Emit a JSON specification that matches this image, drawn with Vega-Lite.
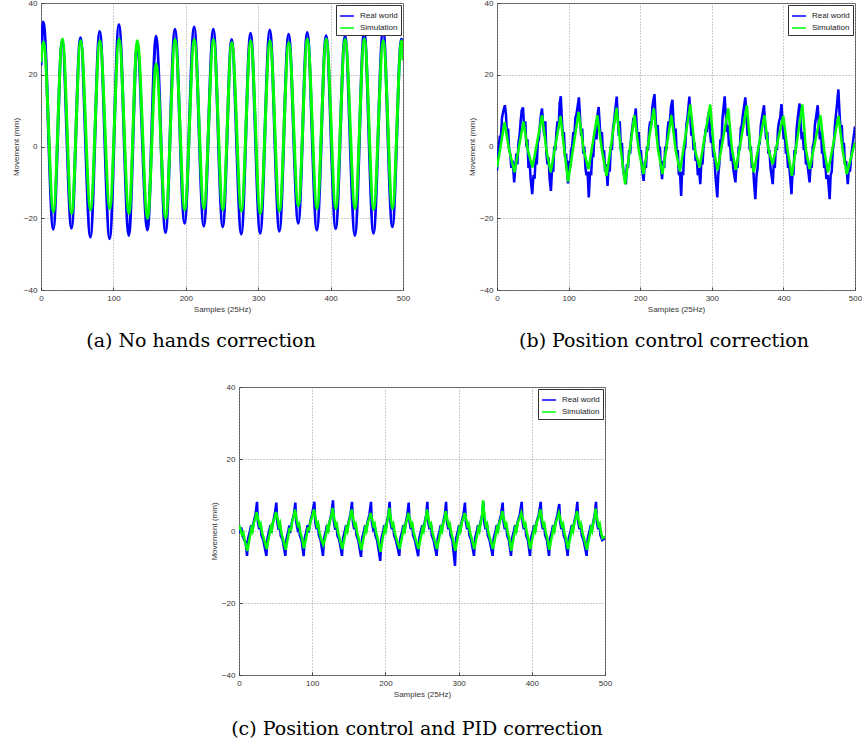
{
"$schema": "https://vega.github.io/schema/vega-lite/v6.json",
"background": "white",
"padding": {"left": 11, "top": -2, "right": 0, "bottom": 0},
"config": {
  "font": "Liberation Sans",
  "view": {"stroke": "#555", "strokeWidth": 1},
  "axis": {"labelFont": "Liberation Sans", "labelFontSize": 8, "labelColor": "#333", "titleFont": "Liberation Sans", "titleFontSize": 8, "titleFontWeight": "normal", "titleColor": "#333", "ticks": true, "tickSize": -3, "tickColor": "#444", "domain": false, "grid": true, "gridColor": "#999", "gridDash": [1, 2], "gridWidth": 1, "labelPadding": 7, "titlePadding": 3, "labelFlush": false},
  "legend": {"orient": "top-right", "offset": 2, "padding": 3, "strokeColor": "#333", "fillColor": "white", "symbolType": "stroke", "symbolSize": 196, "symbolStrokeWidth": 1.5, "labelFont": "Liberation Sans", "labelFontSize": 8, "labelColor": "#222", "rowPadding": -1, "labelOffset": 5, "cornerRadius": 0},
  "title": {"font": "DejaVu Serif", "fontSize": 19, "fontWeight": "normal", "color": "#000", "orient": "bottom", "offset": 19, "anchor": "middle"}
},
"datasets": {
"aR": [{"x":0,"y":22.6},{"x":3.2,"y":34.7},{"x":16.9,"y":-23.1},{"x":29.3,"y":29.5},{"x":42,"y":-22.8},{"x":54.5,"y":30.3},{"x":68.2,"y":-25.3},{"x":81,"y":32.1},{"x":94.8,"y":-25.7},{"x":107.6,"y":34},{"x":121.3,"y":-24.8},{"x":132.8,"y":28.4},{"x":147,"y":-23.3},{"x":158.9,"y":30.7},{"x":172,"y":-24},{"x":185,"y":32.7},{"x":198.3,"y":-21.4},{"x":211.5,"y":33.3},{"x":224.8,"y":-22.2},{"x":238,"y":32.7},{"x":251,"y":-22.4},{"x":263.3,"y":29.8},{"x":276.6,"y":-24.4},{"x":289.4,"y":31.6},{"x":302.7,"y":-24.2},{"x":316,"y":32.5},{"x":329.2,"y":-23.6},{"x":342,"y":31.3},{"x":355.3,"y":-21.4},{"x":367.7,"y":31.8},{"x":381,"y":-23.3},{"x":393.8,"y":30.9},{"x":407,"y":-22.9},{"x":419.9,"y":30.8},{"x":433.6,"y":-24.8},{"x":446.4,"y":31.9},{"x":459.2,"y":-24.2},{"x":472.5,"y":32.6},{"x":485.3,"y":-22.4},{"x":497.8,"y":30},{"x":500,"y":27}],
"aS": [{"x":0,"y":23.5},{"x":3.5,"y":29.1},{"x":17.2,"y":-18.2},{"x":29.5,"y":30},{"x":42.3,"y":-18.7},{"x":54.7,"y":29.5},{"x":68.4,"y":-17.7},{"x":81.2,"y":29.5},{"x":95,"y":-17.3},{"x":107.8,"y":30},{"x":121.5,"y":-18.7},{"x":133,"y":29.5},{"x":147.2,"y":-20},{"x":159,"y":23},{"x":172.2,"y":-20},{"x":185.2,"y":29.8},{"x":198.5,"y":-17.7},{"x":211.7,"y":29.8},{"x":225,"y":-17.3},{"x":238.2,"y":29.8},{"x":251.2,"y":-17.7},{"x":263.5,"y":29},{"x":276.8,"y":-18},{"x":289.6,"y":29.5},{"x":302.9,"y":-18.7},{"x":316.2,"y":29.5},{"x":329.4,"y":-18},{"x":342.2,"y":29},{"x":355.5,"y":-16.6},{"x":367.9,"y":30},{"x":381.2,"y":-17.3},{"x":394,"y":30},{"x":407.2,"y":-17.3},{"x":420.1,"y":29.8},{"x":433.8,"y":-17.3},{"x":446.6,"y":30},{"x":459.4,"y":-17.5},{"x":472.7,"y":29.5},{"x":485.5,"y":-17.3},{"x":498,"y":29.5},{"x":500,"y":24}],
"bR": [{"x":0,"y":-6.7},{"x":2,"y":-1},{"x":4,"y":3},{"x":5,"y":1},{"x":7,"y":8},{"x":9,"y":10},{"x":11,"y":11.5},{"x":12.5,"y":9},{"x":14,"y":3},{"x":15.5,"y":5},{"x":17,"y":-1},{"x":18.5,"y":-2},{"x":20,"y":-6},{"x":22,"y":-4},{"x":24,"y":-10},
{"x":25.5,"y":-6},{"x":27,"y":-2},{"x":28.5,"y":-5},{"x":30,"y":1},{"x":31.5,"y":3},{"x":33,"y":7},{"x":34.5,"y":10},{"x":36.3,"y":10.9},
{"x":38,"y":5},{"x":39.5,"y":7},{"x":41,"y":0},{"x":42.5,"y":2},{"x":44,"y":-6},{"x":45.5,"y":-4},{"x":47,"y":-9},{"x":49.2,"y":-13.3},
{"x":51,"y":-8},{"x":52.5,"y":-9},{"x":54,"y":-3},{"x":55.5,"y":-5},{"x":57,"y":1},{"x":58.5,"y":2},{"x":60,"y":6},{"x":61.5,"y":9},{"x":62.9,"y":10.6},
{"x":64.5,"y":6},{"x":66,"y":3},{"x":67.5,"y":7},{"x":69,"y":-2},{"x":70.5,"y":-5},{"x":72,"y":-3},{"x":73.5,"y":-9},{"x":75.3,"y":-12.4},
{"x":77,"y":-6},{"x":78.5,"y":-7},{"x":80,"y":0},{"x":81.5,"y":-1},{"x":83,"y":4},{"x":84.5,"y":7},{"x":86,"y":5},{"x":87.5,"y":12},{"x":89.1,"y":14},
{"x":90.5,"y":8},{"x":92,"y":3},{"x":93.5,"y":4},{"x":95,"y":-3},{"x":96.5,"y":-2},{"x":98,"y":-7},{"x":99.2,"y":-10.3},
{"x":100.5,"y":-4},{"x":102,"y":-6},{"x":103.5,"y":-1},{"x":105,"y":0},{"x":106.5,"y":4},{"x":108,"y":3},{"x":109.5,"y":8},{"x":111,"y":9},{"x":112.5,"y":11},{"x":114.4,"y":13.7},
{"x":116,"y":8},{"x":117.5,"y":3},{"x":119,"y":5},{"x":120.5,"y":-2},{"x":122,"y":0},{"x":123.5,"y":-6},{"x":125,"y":-8},{"x":126.5,"y":-7},{"x":128.2,"y":-14.2},
{"x":130,"y":-7},{"x":131.5,"y":-8},{"x":133,"y":-2},{"x":134.5,"y":-3},{"x":136,"y":3},{"x":137.5,"y":5},{"x":139,"y":2},{"x":140.5,"y":9},{"x":142,"y":11},
{"x":143.5,"y":6},{"x":145,"y":2},{"x":146.5,"y":4},{"x":148,"y":-2},{"x":149.5,"y":-1},{"x":151,"y":-7},{"x":152.5,"y":-5},{"x":154.4,"y":-11},
{"x":156,"y":-5},{"x":157.5,"y":-7},{"x":159,"y":0},{"x":160.5,"y":-1},{"x":162,"y":5},{"x":163.5,"y":7},{"x":165,"y":10},{"x":167.2,"y":13.9},
{"x":168.5,"y":9},{"x":170,"y":3},{"x":171.5,"y":7},{"x":173,"y":-1},{"x":174.5,"y":1},{"x":176,"y":-6},{"x":177.5,"y":-8},{"x":180,"y":-10.5},
{"x":181.5,"y":-5},{"x":183,"y":-6},{"x":184.5,"y":-1},{"x":186,"y":-2},{"x":187.5,"y":3},{"x":189,"y":5},{"x":190.5,"y":8},{"x":192,"y":7},{"x":193.8,"y":10.6},
{"x":195,"y":6},{"x":196.5,"y":2},{"x":198,"y":4},{"x":199.5,"y":-2},{"x":201,"y":-1},{"x":202.5,"y":-6},{"x":204.8,"y":-9.6},
{"x":206.5,"y":-4},{"x":208,"y":-6},{"x":209.5,"y":0},{"x":211,"y":-1},{"x":212.5,"y":5},{"x":214,"y":7},{"x":215.5,"y":6},{"x":217,"y":11},{"x":218.5,"y":13},{"x":220,"y":14.6},
{"x":221.5,"y":8},{"x":223,"y":3},{"x":224.5,"y":6},{"x":226,"y":-1},{"x":227.5,"y":0},{"x":229,"y":-6},{"x":230.6,"y":-9.1},
{"x":232,"y":-4},{"x":233.5,"y":-6},{"x":235,"y":0},{"x":236.5,"y":-1},{"x":238,"y":4},{"x":239.5,"y":7},{"x":241,"y":6},{"x":243,"y":11},{"x":245,"y":13},
{"x":246.5,"y":7},{"x":248,"y":3},{"x":249.5,"y":5},{"x":251,"y":-2},{"x":252.5,"y":-1},{"x":254,"y":-8},{"x":255.5,"y":-7},{"x":257.2,"y":-13.8},
{"x":258.5,"y":-7},{"x":260,"y":-8},{"x":261.5,"y":-1},{"x":263,"y":0},{"x":264.5,"y":6},{"x":266,"y":8},{"x":268.7,"y":13.9},
{"x":270,"y":8},{"x":271.5,"y":3},{"x":273,"y":5},{"x":274.5,"y":-1},{"x":276,"y":1},{"x":277.5,"y":-4},{"x":279,"y":-3},{"x":280.5,"y":-8},{"x":282,"y":-6},{"x":283.9,"y":-10.5},
{"x":285.5,"y":-4},{"x":287,"y":-5},{"x":288.5,"y":0},{"x":290,"y":2},{"x":291.5,"y":5},{"x":293,"y":4},{"x":294.5,"y":8},{"x":296,"y":9.6},
{"x":297.5,"y":4},{"x":299,"y":1},{"x":300.5,"y":3},{"x":302,"y":-3},{"x":303.5,"y":-2},{"x":305,"y":-8},{"x":307.7,"y":-14.2},
{"x":309,"y":-8},{"x":310.5,"y":-5},{"x":312,"y":2},{"x":313.5,"y":1},{"x":315,"y":8},{"x":316.5,"y":11},{"x":318,"y":14},
{"x":319.5,"y":9},{"x":321,"y":4},{"x":322.5,"y":6},{"x":324,"y":0},{"x":325.5,"y":1},{"x":327,"y":-4},{"x":328.5,"y":-3},{"x":330.5,"y":-7},{"x":333,"y":-10},
{"x":334.5,"y":-5},{"x":336,"y":-6},{"x":337.5,"y":0},{"x":339,"y":-1},{"x":340.5,"y":5},{"x":342,"y":6},{"x":343.5,"y":9},{"x":345,"y":11},{"x":346.8,"y":13.7},
{"x":348.5,"y":8},{"x":350,"y":3},{"x":351.5,"y":5},{"x":353,"y":-1},{"x":354.5,"y":0},{"x":356,"y":-6},{"x":357.5,"y":-5},{"x":359,"y":-10},{"x":360.8,"y":-14.7},
{"x":362.5,"y":-8},{"x":364,"y":-6},{"x":365.5,"y":0},{"x":367,"y":1},{"x":368.5,"y":6},{"x":370,"y":8},{"x":372.9,"y":11.5},
{"x":374.5,"y":6},{"x":376,"y":2},{"x":377.5,"y":4},{"x":379,"y":-2},{"x":380.5,"y":-1},{"x":382,"y":-6},{"x":385.1,"y":-10.5},
{"x":386.5,"y":-5},{"x":388,"y":-6},{"x":389.5,"y":0},{"x":391,"y":-1},{"x":392.5,"y":5},{"x":394,"y":7},{"x":395.5,"y":8},{"x":397.3,"y":11.8},
{"x":399,"y":6},{"x":400.5,"y":2},{"x":402,"y":4},{"x":403.5,"y":-2},{"x":405,"y":-1},{"x":406.5,"y":-6},{"x":408,"y":-5},{"x":411.3,"y":-13.3},
{"x":412.8,"y":-7},{"x":414,"y":-8},{"x":415.5,"y":-1},{"x":417,"y":-2},{"x":418.5,"y":5},{"x":420,"y":8},{"x":422.6,"y":12},
{"x":424,"y":7},{"x":425.5,"y":2},{"x":427,"y":4},{"x":428.5,"y":-1},{"x":430,"y":0},{"x":431.5,"y":-5},{"x":433,"y":-4},{"x":436.6,"y":-10},
{"x":438,"y":-5},{"x":439.5,"y":-6},{"x":441,"y":0},{"x":442.5,"y":1},{"x":444,"y":6},{"x":445.5,"y":8},{"x":447.9,"y":11.5},
{"x":449.5,"y":6},{"x":451,"y":2},{"x":452.5,"y":4},{"x":454,"y":-2},{"x":455.5,"y":-1},{"x":457,"y":-6},{"x":458.5,"y":-5},{"x":460,"y":-9},{"x":462,"y":-8},{"x":464.6,"y":-14.7},
{"x":466,"y":-8},{"x":467.5,"y":-7},{"x":469,"y":-1},{"x":470.5,"y":1},{"x":472,"y":6},{"x":473.5,"y":9},{"x":475,"y":12},{"x":476.8,"y":15.9},
{"x":478.5,"y":9},{"x":480,"y":4},{"x":481.5,"y":6},{"x":483,"y":0},{"x":484.5,"y":1},{"x":486,"y":-5},{"x":487.5,"y":-4},{"x":489.9,"y":-10.5},
{"x":491.5,"y":-6},{"x":493,"y":-7},{"x":495,"y":-2},{"x":497,"y":1},{"x":499,"y":4},{"x":500,"y":5.6}],
"bS": [{"x":0,"y":-5.8},{"x":5,"y":0},{"x":10.6,"y":6.8},{"x":17,"y":-1},{"x":24.4,"y":-7.2},{"x":37,"y":7},{"x":43,"y":-1},{"x":49.6,"y":-5.8},{"x":63,"y":8.7},{"x":69,"y":-1},{"x":75,"y":-7.2},{"x":88.7,"y":8.5},{"x":94,"y":-1},{"x":99.3,"y":-9.8},{"x":114,"y":9.6},{"x":121,"y":-1},{"x":127.8,"y":-6.3},{"x":140,"y":8.7},{"x":146.5,"y":-1},{"x":153,"y":-8.2},{"x":167,"y":10.8},{"x":173,"y":-1},{"x":179,"y":-10.5},{"x":192,"y":8.7},{"x":198,"y":-1},{"x":204.5,"y":-7.7},{"x":219,"y":10.6},{"x":225,"y":-1},{"x":231,"y":-7.7},{"x":243.6,"y":8.7},{"x":249.5,"y":-1},{"x":255.5,"y":-7},{"x":270,"y":11.7},{"x":276.5,"y":-1},{"x":283,"y":-5.8},{"x":297.8,"y":11.7},{"x":303,"y":-1},{"x":308,"y":-6.7},{"x":323,"y":10.6},{"x":328.3,"y":-1},{"x":333.6,"y":-6.5},{"x":349,"y":11.5},{"x":354,"y":-1},{"x":358.5,"y":-7.2},{"x":373.6,"y":8.7},{"x":379.3,"y":-1},{"x":385,"y":-4.9},{"x":399.8,"y":8.5},{"x":405.8,"y":-1},{"x":411.8,"y":-8.2},{"x":426.5,"y":11.7},{"x":431.5,"y":-1},{"x":436.6,"y":-6.3},{"x":451.7,"y":8.7},{"x":457,"y":-1},{"x":462.3,"y":-7.2},{"x":477,"y":8.5},{"x":482.7,"y":-1},{"x":488.5,"y":-7.7},{"x":500,"y":1.2}],
"cR": [{"x":0,"y":1.4},{"x":1.5,"y":-0.5},{"x":3,"y":1},{"x":5,"y":-1},{"x":7,"y":-2.5},{"x":9,"y":-3},
{"x":11,"y":-6.9},{"x":12.5,"y":-2},{"x":15,"y":0},{"x":16.5,"y":1.6},{"x":17.5,"y":-0.5},{"x":20,"y":2.5},{"x":22.5,"y":4.5},{"x":24.6,"y":8.1},{"x":25.8,"y":2.5},{"x":27.6,"y":0.5},{"x":29.6,"y":1.8},{"x":30.6,"y":-1.2},{"x":33.1,"y":-2.5},
{"x":37.4,"y":-6.9},{"x":38.9,"y":-2},{"x":41.4,"y":0.3},{"x":42.9,"y":1.6},{"x":43.9,"y":-0.5},{"x":46.4,"y":2.3},{"x":48.9,"y":4.7},{"x":51,"y":7.9},{"x":52.2,"y":2.7},{"x":54,"y":0.3},{"x":56,"y":1.8},{"x":57,"y":-1.3},{"x":59.5,"y":-2.4},
{"x":63.3,"y":-6.9},{"x":64.8,"y":-2.2},{"x":67.3,"y":0},{"x":68.8,"y":1.5},{"x":69.8,"y":-0.6},{"x":72.3,"y":2.5},{"x":74.8,"y":4.4},{"x":77,"y":7.9},{"x":78.2,"y":2.5},{"x":80,"y":0.6},{"x":82,"y":1.7},{"x":83,"y":-1.2},{"x":85.5,"y":-2.6},
{"x":88.3,"y":-7},{"x":89.8,"y":-2},{"x":92.3,"y":0.2},{"x":93.8,"y":1.6},{"x":94.8,"y":-0.4},{"x":97.3,"y":2.6},{"x":99.8,"y":4.6},{"x":103,"y":8.1},{"x":104.2,"y":2.4},{"x":106,"y":0.5},{"x":108,"y":1.9},{"x":109,"y":-1.1},{"x":111.5,"y":-2.5},
{"x":114.7,"y":-6.9},{"x":116.2,"y":-2.1},{"x":118.7,"y":0},{"x":120.2,"y":1.7},{"x":121.2,"y":-0.5},{"x":123.7,"y":2.4},{"x":126.2,"y":4.8},{"x":128.4,"y":8.5},{"x":129.6,"y":2.6},{"x":131.4,"y":0.4},{"x":133.4,"y":1.8},{"x":134.4,"y":-1.3},{"x":136.9,"y":-2.4},
{"x":140.7,"y":-6.9},{"x":142.2,"y":-2},{"x":144.7,"y":0.1},{"x":146.2,"y":1.6},{"x":147.2,"y":-0.6},{"x":149.7,"y":2.5},{"x":152.2,"y":4.5},{"x":154.4,"y":8.1},{"x":155.6,"y":2.5},{"x":157.4,"y":0.5},{"x":159.4,"y":1.8},{"x":160.4,"y":-1.2},{"x":162.9,"y":-2.5},
{"x":166.7,"y":-7.2},{"x":168.2,"y":-2.1},{"x":170.7,"y":0},{"x":172.2,"y":1.5},{"x":173.2,"y":-0.5},{"x":175.7,"y":2.6},{"x":178.2,"y":4.6},{"x":180.3,"y":8.1},{"x":181.5,"y":2.4},{"x":183.3,"y":0.6},{"x":185.3,"y":1.7},{"x":186.3,"y":-1.2},{"x":188.8,"y":-2.7},
{"x":193,"y":-8.3},{"x":194.5,"y":-2.2},{"x":197,"y":0},{"x":198.5,"y":1.6},{"x":199.5,"y":-0.5},{"x":202,"y":2.5},{"x":204,"y":4.5},{"x":205.8,"y":8.1},{"x":207,"y":2.5},{"x":208.8,"y":0.5},{"x":210.8,"y":1.8},{"x":211.8,"y":-1.2},{"x":214.3,"y":-2.5},
{"x":219,"y":-6.9},{"x":220.5,"y":-2},{"x":223,"y":0},{"x":224.5,"y":1.6},{"x":225.5,"y":-0.5},{"x":228,"y":2.5},{"x":230,"y":4.5},{"x":231.8,"y":7.9},{"x":233,"y":2.5},{"x":234.8,"y":0.5},{"x":236.8,"y":1.8},{"x":237.8,"y":-1.2},{"x":240.3,"y":-2.5},
{"x":244.8,"y":-7},{"x":246.3,"y":-2},{"x":248.8,"y":0.2},{"x":250.3,"y":1.6},{"x":251.3,"y":-0.5},{"x":253.8,"y":2.5},{"x":255.8,"y":4.5},{"x":257.3,"y":8.1},{"x":258.5,"y":2.5},{"x":260.3,"y":0.5},{"x":262.3,"y":1.8},{"x":263.3,"y":-1.2},{"x":265.8,"y":-2.5},
{"x":270,"y":-6.9},{"x":271.5,"y":-2},{"x":274,"y":0},{"x":275.5,"y":1.6},{"x":276.5,"y":-0.5},{"x":279,"y":2.5},{"x":281.2,"y":4.5},{"x":282.9,"y":8.1},{"x":284.1,"y":2.5},{"x":285.9,"y":0.5},{"x":287.9,"y":1.8},{"x":288.9,"y":-1.2},{"x":291.4,"y":-2.5},
{"x":295.1,"y":-9.7},{"x":296.6,"y":-2},{"x":299.1,"y":0},{"x":300.6,"y":1.6},{"x":301.6,"y":-0.5},{"x":304.1,"y":2.5},{"x":306.6,"y":4.5},{"x":308.7,"y":7.9},{"x":309.9,"y":2.5},{"x":311.7,"y":0.5},{"x":313.7,"y":1.8},{"x":314.7,"y":-1.2},{"x":317.2,"y":-2.5},
{"x":321,"y":-6.9},{"x":322.5,"y":-2},{"x":325,"y":0},{"x":326.5,"y":1.6},{"x":327.5,"y":-0.5},{"x":330,"y":2.5},{"x":332.2,"y":4.5},{"x":333.8,"y":8.1},{"x":335,"y":2.5},{"x":336.8,"y":0.5},{"x":338.8,"y":1.8},{"x":339.8,"y":-1.2},{"x":342.3,"y":-2.5},
{"x":346.5,"y":-6.9},{"x":348,"y":-2},{"x":350.5,"y":0},{"x":352,"y":1.6},{"x":353,"y":-0.5},{"x":355.5,"y":2.5},{"x":358,"y":4.5},{"x":360.2,"y":7.9},{"x":361.4,"y":2.5},{"x":363.2,"y":0.5},{"x":365.2,"y":1.8},{"x":366.2,"y":-1.2},{"x":368.7,"y":-2.5},
{"x":371.6,"y":-6.9},{"x":373.1,"y":-2},{"x":375.6,"y":0},{"x":377.1,"y":1.6},{"x":378.1,"y":-0.5},{"x":380.6,"y":2.5},{"x":383.6,"y":4.5},{"x":386.2,"y":8.1},{"x":387.4,"y":2.5},{"x":389.2,"y":0.5},{"x":391.2,"y":1.8},{"x":392.2,"y":-1.2},{"x":394.7,"y":-2.5},
{"x":397.5,"y":-6.9},{"x":399,"y":-2},{"x":401.5,"y":0},{"x":403,"y":1.6},{"x":404,"y":-0.5},{"x":406.5,"y":2.5},{"x":409.5,"y":4.5},{"x":412.2,"y":8.1},{"x":413.4,"y":2.5},{"x":415.2,"y":0.5},{"x":417.2,"y":1.8},{"x":418.2,"y":-1.2},{"x":420.7,"y":-2.5},
{"x":423.5,"y":-6.9},{"x":425,"y":-2},{"x":427.5,"y":0},{"x":429,"y":1.6},{"x":430,"y":-0.5},{"x":432.5,"y":2.5},{"x":435,"y":4.5},{"x":437.5,"y":7.5},{"x":438.7,"y":2.5},{"x":440.5,"y":0.5},{"x":442.5,"y":1.8},{"x":443.5,"y":-1.2},{"x":446,"y":-2.5},
{"x":449,"y":-6.9},{"x":450.5,"y":-2},{"x":453,"y":0},{"x":454.5,"y":1.6},{"x":455.5,"y":-0.5},{"x":458,"y":2.5},{"x":460.3,"y":4.5},{"x":462.2,"y":8.1},{"x":463.4,"y":2.5},{"x":465.2,"y":0.5},{"x":467.2,"y":1.8},{"x":468.2,"y":-1.2},{"x":470.7,"y":-2.5},
{"x":474.9,"y":-6.9},{"x":476.4,"y":-2},{"x":478.9,"y":0},{"x":480.4,"y":1.6},{"x":481.4,"y":-0.5},{"x":483.9,"y":2.5},{"x":486,"y":4.5},{"x":487.7,"y":8.1},{"x":488.9,"y":2.5},{"x":490.7,"y":0.5},{"x":492.7,"y":1.8},{"x":493.7,"y":-1.2},{"x":496.2,"y":-2.5},{"x":500,"y":-2}],
"cS": [{"x":0,"y":1.6},{"x":2,"y":0.5},{"x":4,"y":-1},{"x":6,"y":-0.5},{"x":8,"y":-3},
{"x":11.5,"y":-5.5},{"x":14,"y":-2.5},{"x":15.5,"y":-1},{"x":17,"y":0.8},{"x":18.5,"y":0},{"x":20.5,"y":2.5},{"x":22.5,"y":3.5},{"x":24,"y":5.2},{"x":26.6,"y":3},{"x":28.1,"y":1.5},{"x":29.6,"y":2},{"x":31.6,"y":-0.5},{"x":33.6,"y":-2},
{"x":37.8,"y":-5},{"x":40.3,"y":-2.3},{"x":41.8,"y":-0.8},{"x":43.3,"y":1},{"x":44.8,"y":0.2},{"x":46.8,"y":2.8},{"x":48.8,"y":3.6},{"x":50.5,"y":5.3},{"x":53,"y":3.2},{"x":54.5,"y":1.4},{"x":56,"y":2.2},{"x":58,"y":-0.6},{"x":60,"y":-2.2},
{"x":63.7,"y":-5.2},{"x":66.2,"y":-2.6},{"x":67.7,"y":-1},{"x":69.2,"y":0.9},{"x":70.7,"y":0},{"x":72.7,"y":2.6},{"x":74.7,"y":4},{"x":76.5,"y":6},{"x":79,"y":3},{"x":80.5,"y":1.6},{"x":82,"y":2},{"x":84,"y":-0.5},{"x":86,"y":-2},
{"x":88.7,"y":-4.8},{"x":91.2,"y":-2.4},{"x":92.7,"y":-0.9},{"x":94.2,"y":1},{"x":95.7,"y":0.1},{"x":97.7,"y":2.7},{"x":99.7,"y":3.8},{"x":102.5,"y":6},{"x":105,"y":3.1},{"x":106.5,"y":1.5},{"x":108,"y":2.1},{"x":110,"y":-0.4},{"x":112,"y":-2.1},
{"x":115.1,"y":-3.8},{"x":117.6,"y":-2.2},{"x":119.1,"y":-0.8},{"x":120.6,"y":1},{"x":122.1,"y":0.2},{"x":124.1,"y":2.8},{"x":126.1,"y":4},{"x":127.9,"y":6.4},{"x":130.4,"y":3.2},{"x":131.9,"y":1.5},{"x":133.4,"y":2},{"x":135.4,"y":-0.5},{"x":137.4,"y":-2},
{"x":141.1,"y":-5},{"x":143.6,"y":-2.5},{"x":145.1,"y":-1},{"x":146.6,"y":0.8},{"x":148.1,"y":0},{"x":150.1,"y":2.5},{"x":152.1,"y":3.8},{"x":153.9,"y":6},{"x":156.4,"y":3},{"x":157.9,"y":1.5},{"x":159.4,"y":2},{"x":161.4,"y":-0.5},{"x":163.4,"y":-2},
{"x":167.1,"y":-5.3},{"x":169.6,"y":-2.5},{"x":171.1,"y":-1},{"x":172.6,"y":0.8},{"x":174.1,"y":0},{"x":176.1,"y":2.5},{"x":178.1,"y":3.5},{"x":179.8,"y":5},{"x":182.3,"y":3},{"x":183.8,"y":1.5},{"x":185.3,"y":2},{"x":187.3,"y":-0.5},{"x":189.3,"y":-2},
{"x":193.4,"y":-5.8},{"x":195.9,"y":-2.5},{"x":197.4,"y":-1},{"x":198.9,"y":0.8},{"x":200.4,"y":0},{"x":202.4,"y":2.5},{"x":204,"y":4},{"x":205.3,"y":6.4},{"x":207.8,"y":3},{"x":209.3,"y":1.5},{"x":210.8,"y":2},{"x":212.8,"y":-0.5},{"x":214.8,"y":-2},
{"x":219.4,"y":-5},{"x":221.9,"y":-2.5},{"x":223.4,"y":-1},{"x":224.9,"y":0.8},{"x":226.4,"y":0},{"x":228.4,"y":2.5},{"x":230,"y":3.5},{"x":231.3,"y":5},{"x":233.8,"y":3},{"x":235.3,"y":1.5},{"x":236.8,"y":2},{"x":238.8,"y":-0.5},{"x":240.8,"y":-2},
{"x":245.2,"y":-5},{"x":247.7,"y":-2.5},{"x":249.2,"y":-1},{"x":250.7,"y":0.8},{"x":252.2,"y":0},{"x":254.2,"y":2.5},{"x":255.6,"y":3.8},{"x":256.8,"y":6},{"x":259.3,"y":3},{"x":260.8,"y":1.5},{"x":262.3,"y":2},{"x":264.3,"y":-0.5},{"x":266.3,"y":-2},
{"x":270.4,"y":-5},{"x":272.9,"y":-2.5},{"x":274.4,"y":-1},{"x":275.9,"y":0.8},{"x":277.4,"y":0},{"x":279.4,"y":2.5},{"x":281,"y":3.5},{"x":282.4,"y":5.5},{"x":284.9,"y":3},{"x":286.4,"y":1.5},{"x":287.9,"y":2},{"x":289.9,"y":-0.5},{"x":291.9,"y":-2},
{"x":295.5,"y":-5.5},{"x":298,"y":-2.5},{"x":299.5,"y":-1},{"x":301,"y":0.8},{"x":302.5,"y":0},{"x":304.5,"y":2.5},{"x":306.5,"y":3.5},{"x":308.2,"y":5},{"x":310.7,"y":3},{"x":312.2,"y":1.5},{"x":313.7,"y":2},{"x":315.7,"y":-0.5},{"x":317.7,"y":-2},
{"x":321.4,"y":-5},{"x":323.9,"y":-2.5},{"x":325.4,"y":-1},{"x":326.9,"y":0.8},{"x":328.4,"y":0},{"x":330.4,"y":2.5},{"x":332,"y":4},{"x":333.3,"y":8.5},{"x":335.8,"y":3.5},{"x":337.3,"y":1.5},{"x":338.8,"y":2},{"x":340.8,"y":-0.5},{"x":342.8,"y":-2},
{"x":346.9,"y":-5},{"x":349.4,"y":-2.5},{"x":350.9,"y":-1},{"x":352.4,"y":0.8},{"x":353.9,"y":0},{"x":355.9,"y":2.5},{"x":357.9,"y":3.5},{"x":359.7,"y":5.5},{"x":362.2,"y":3},{"x":363.7,"y":1.5},{"x":365.2,"y":2},{"x":367.2,"y":-0.5},{"x":369.2,"y":-2},
{"x":372,"y":-5.5},{"x":374.5,"y":-2.5},{"x":376,"y":-1},{"x":377.5,"y":0.8},{"x":379,"y":0},{"x":381,"y":2.5},{"x":383.5,"y":3.5},{"x":385.7,"y":5},{"x":388.2,"y":3},{"x":389.7,"y":1.5},{"x":391.2,"y":2},{"x":393.2,"y":-0.5},{"x":395.2,"y":-2},
{"x":397.9,"y":-5},{"x":400.4,"y":-2.5},{"x":401.9,"y":-1},{"x":403.4,"y":0.8},{"x":404.9,"y":0},{"x":406.9,"y":2.5},{"x":409.4,"y":3.8},{"x":411.7,"y":6},{"x":414.2,"y":3},{"x":415.7,"y":1.5},{"x":417.2,"y":2},{"x":419.2,"y":-0.5},{"x":421.2,"y":-2},
{"x":423.9,"y":-5.2},{"x":426.4,"y":-2.5},{"x":427.9,"y":-1},{"x":429.4,"y":0.8},{"x":430.9,"y":0},{"x":432.9,"y":2.5},{"x":435,"y":3.5},{"x":437,"y":5},{"x":439.5,"y":3},{"x":441,"y":1.5},{"x":442.5,"y":2},{"x":444.5,"y":-0.5},{"x":446.5,"y":-2},
{"x":449.4,"y":-5},{"x":451.9,"y":-2.5},{"x":453.4,"y":-1},{"x":454.9,"y":0.8},{"x":456.4,"y":0},{"x":458.4,"y":2.5},{"x":460,"y":3.5},{"x":461.7,"y":5.5},{"x":464.2,"y":3},{"x":465.7,"y":1.5},{"x":467.2,"y":2},{"x":469.2,"y":-0.5},{"x":471.2,"y":-2},
{"x":475.3,"y":-5.2},{"x":477.8,"y":-2.5},{"x":479.3,"y":-1},{"x":480.8,"y":0.8},{"x":482.3,"y":0},{"x":484.3,"y":2.5},{"x":486,"y":4},{"x":487.2,"y":6.2},{"x":489.7,"y":3},{"x":491.2,"y":1.5},{"x":492.7,"y":2},{"x":494.7,"y":-0.5},{"x":496.7,"y":-2},{"x":500,"y":-1.5}]
},
"vconcat": [
{
"hconcat": [
{
"width": 362, "height": 287,
"title": {"text": "(a) No hands correction", "dx": -21},
"layer": [
{"data": {"name": "aR"}, "mark": {"type": "line", "strokeWidth": 3, "interpolate": "monotone", "clip": true},
 "encoding": {
  "x": {"field": "x", "type": "quantitative", "scale": {"domain": [0, 500], "nice": false, "zero": false}, "axis": {"values": [0, 100, 200, 300, 400, 500], "title": "Samples (25Hz)"}},
  "y": {"field": "y", "type": "quantitative", "scale": {"domain": [-40, 40], "nice": false}, "axis": {"values": [-40, -20, 0, 20, 40], "title": "Movement (mm)"}},
  "color": {"datum": "Real world", "type": "nominal", "scale": {"domain": ["Real world", "Simulation"], "range": ["#0000ff", "#00ff00"]}, "legend": {"title": null, "symbolStrokeWidth": 1.5}}}},
{"data": {"name": "aS"}, "mark": {"type": "line", "strokeWidth": 3, "interpolate": "monotone", "clip": true},
 "encoding": {
  "x": {"field": "x", "type": "quantitative"},
  "y": {"field": "y", "type": "quantitative"},
  "color": {"datum": "Simulation", "type": "nominal"}}}
]
},
{
"width": 358, "height": 287,
"title": {"text": "(b) Position control correction", "dx": -12},
"layer": [
{"data": {"name": "bR"}, "mark": {"type": "line", "strokeWidth": 2.5, "clip": true},
 "encoding": {
  "x": {"field": "x", "type": "quantitative", "scale": {"domain": [0, 500], "nice": false, "zero": false}, "axis": {"values": [0, 100, 200, 300, 400, 500], "title": "Samples (25Hz)"}},
  "y": {"field": "y", "type": "quantitative", "scale": {"domain": [-40, 40], "nice": false}, "axis": {"values": [-40, -20, 0, 20, 40], "title": "Movement (mm)"}},
  "color": {"datum": "Real world", "type": "nominal", "scale": {"domain": ["Real world", "Simulation"], "range": ["#0000ff", "#00ff00"]}, "legend": {"title": null, "symbolStrokeWidth": 1.5}}}},
{"data": {"name": "bS"}, "mark": {"type": "line", "strokeWidth": 2.5, "clip": true},
 "encoding": {
  "x": {"field": "x", "type": "quantitative"},
  "y": {"field": "y", "type": "quantitative"},
  "color": {"datum": "Simulation", "type": "nominal"}}}
]
}
],
"spacing": 56,
"resolve": {"scale": {"color": "independent"}, "legend": {"color": "independent"}}
},
{
"hconcat": [
{"width": 158, "height": 1, "data": {"values": [{}]}, "mark": {"type": "rect", "opacity": 0}, "encoding": {}, "view": {"stroke": null, "fill": "white"}},
{
"width": 366, "height": 288,
"title": {"text": "(c) Position control and PID correction", "dx": -5, "offset": 22},
"layer": [
{"data": {"name": "cR"}, "mark": {"type": "line", "strokeWidth": 2.5, "clip": true},
 "encoding": {
  "x": {"field": "x", "type": "quantitative", "scale": {"domain": [0, 500], "nice": false, "zero": false}, "axis": {"values": [0, 100, 200, 300, 400, 500], "title": "Samples (25Hz)"}},
  "y": {"field": "y", "type": "quantitative", "scale": {"domain": [-40, 40], "nice": false}, "axis": {"values": [-40, -20, 0, 20, 40], "title": "Movement (mm)"}},
  "color": {"datum": "Real world", "type": "nominal", "scale": {"domain": ["Real world", "Simulation"], "range": ["#0000ff", "#00ff00"]}, "legend": {"title": null, "symbolStrokeWidth": 1.5}}}},
{"data": {"name": "cS"}, "mark": {"type": "line", "strokeWidth": 2.5, "clip": true},
 "encoding": {
  "x": {"field": "x", "type": "quantitative"},
  "y": {"field": "y", "type": "quantitative"},
  "color": {"datum": "Simulation", "type": "nominal"}}}
]
}
],
"spacing": 10,
"resolve": {"scale": {"color": "independent"}, "legend": {"color": "independent"}}
}
],
"spacing": 30,
"resolve": {"scale": {"color": "independent"}, "legend": {"color": "independent"}}
}
